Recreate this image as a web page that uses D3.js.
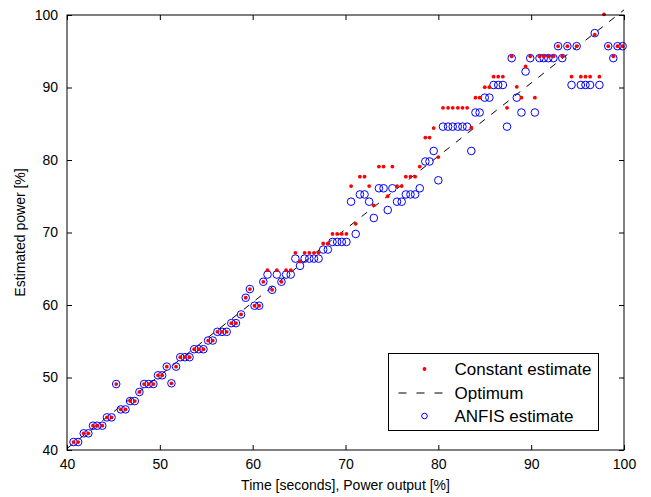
<!DOCTYPE html>
<html>
<head>
<meta charset="utf-8">
<script src="https://cdn.jsdelivr.net/npm/d3@7"></script>
<style>
  body { margin: 0; background: #fff; }
  svg { display: block; font-family: "Liberation Sans", Arial, Helvetica, sans-serif; }
</style>
</head>
<body>
<svg id="chart" width="651" height="497"></svg>
<script>
// sample positions (power output %)
var samples = [40.7, 41.2, 41.8, 42.3, 42.8, 43.25, 43.8, 44.3, 44.8, 45.3,
  45.8, 46.3, 46.8, 47.3, 47.8, 48.3, 48.8, 49.3, 49.8, 50.25,
  50.75, 51.25, 51.75, 52.2, 52.7, 53.2, 53.7, 54.2, 54.7, 55.2,
  55.7, 56.2, 56.7, 57.2, 57.7, 58.2, 58.75, 59.25, 59.7, 60.2,
  60.7, 61.15, 61.6, 62.1, 62.6, 63.1, 63.6, 64.1, 64.6, 65.1,
  65.6, 66.1, 66.6, 67.1, 67.6, 68.1, 68.6, 69.1, 69.6, 70.1,
  70.6, 71.1, 71.55, 72.05, 72.55, 73.05, 73.6, 74.1, 74.55, 75.05,
  75.55, 76.05, 76.5, 77.0, 77.5, 78.0, 78.6, 79.05, 79.5, 80.0,
  80.5, 81.05, 81.55, 82.1, 82.6, 83.1, 83.55, 84.0, 84.45, 85.0,
  85.5, 85.95, 86.45, 86.95, 87.4, 87.9, 88.45, 88.95, 89.4, 89.9,
  90.4, 90.9, 91.35, 91.85, 92.4, 92.9, 93.35, 93.9, 94.35, 94.9,
  95.35, 95.85, 96.35, 96.85, 97.35, 97.85, 98.3, 98.85, 99.3, 99.85];

// red dots
var constantEst = [41.1, 41.1, 42.3, 42.3, 43.35, 43.35, 43.35, 44.5, 44.5, 49.1,
  45.6, 45.6, 46.75, 46.75, 48.0, 49.1, 49.1, 49.1, 50.3, 50.3,
  51.5, 49.2, 51.5, 52.8, 52.8, 52.8, 53.9, 53.9, 53.9, 55.1,
  55.1, 56.3, 56.3, 56.3, 57.5, 57.5, 58.7, 61.0, 62.2, 59.9,
  59.9, 63.2, 64.8, 62.1, 64.8, 63.2, 64.8, 64.8, 67.2, 66.0,
  67.2, 67.2, 67.2, 67.2, 68.5, 68.5, 69.8, 69.8, 69.8, 69.8,
  76.4, 71.2, 77.7, 77.7, 76.4, 73.75, 79.1, 79.1, 75.0, 79.1,
  76.4, 76.4, 77.7, 77.7, 77.7, 79.1, 83.1, 83.1, 84.4, 80.4,
  87.2, 87.2, 87.2, 87.2, 87.2, 87.2, 84.45, 88.6, 88.6, 90.05,
  90.05, 91.5, 91.5, 91.5, 87.2, 94.3, 90.1, 88.6, 92.9, 94.3,
  88.6, 94.3, 94.3, 94.3, 94.3, 95.7, 94.3, 95.7, 91.5, 95.7,
  91.5, 91.5, 91.5, 97.3, 91.5, 100.1, 95.7, 94.3, 95.7, 95.7];

// blue circles
var anfisEst = [41.1, 41.1, 42.3, 42.3, 43.35, 43.35, 43.35, 44.5, 44.5, 49.1,
  45.6, 45.6, 46.75, 46.75, 48.0, 49.1, 49.1, 49.1, 50.3, 50.3,
  51.5, 49.2, 51.5, 52.8, 52.8, 52.8, 53.9, 53.9, 53.9, 55.1,
  55.1, 56.3, 56.3, 56.3, 57.5, 57.5, 58.7, 61.0, 62.2, 59.9,
  59.9, 63.2, 64.2, 62.1, 64.2, 63.2, 64.2, 64.2, 66.4, 65.4,
  66.4, 66.4, 66.4, 66.4, 67.65, 67.65, 68.7, 68.7, 68.7, 68.7,
  74.25, 69.8, 75.25, 75.25, 74.25, 72.0, 76.1, 76.1, 73.1, 76.1,
  74.25, 74.25, 75.25, 75.25, 75.25, 76.1, 79.8, 79.8, 81.25, 77.2,
  84.6, 84.6, 84.6, 84.6, 84.6, 84.6, 81.25, 86.55, 86.55, 88.6,
  88.6, 90.35, 90.35, 90.35, 84.6, 94.05, 88.6, 86.55, 92.2, 94.05,
  86.55, 94.05, 94.05, 94.05, 94.05, 95.7, 94.05, 95.7, 90.35, 95.7,
  90.35, 90.35, 90.35, 97.5, 90.35, null, 95.7, 94.05, 95.7, 95.7];

// dashed optimum line end points
var optimumX = [40, 100];
var optimumY = [40.2, 100.7];

var xTicks = [40, 50, 60, 70, 80, 90, 100];
var yTicks = [40, 50, 60, 70, 80, 90, 100];
var legendLabels = ["Constant estimate", "Optimum", "ANFIS estimate"];

var svg = d3.select("#chart");
var plotLeft = 67, plotRight = 624, plotTop = 15, plotBottom = 450;

var x = d3.scaleLinear().domain([40, 100]).range([plotLeft, plotRight]);
var y = d3.scaleLinear().domain([40, 100]).range([plotBottom, plotTop]);

// optimum
var optLine = d3.line()
  .x(function(d) { return x(d[0]); })
  .y(function(d) { return y(d[1]); });
svg.append("path")
  .datum(d3.zip(optimumX, optimumY))
  .attr("d", optLine)
  .attr("fill", "none")
  .attr("stroke", "#000")
  .attr("stroke-width", 1)
  .attr("stroke-dasharray", "7,8");

// ANFIS circles
svg.append("g").selectAll("circle")
  .data(d3.zip(samples, anfisEst).filter(function(d) { return d[1] != null; }))
  .enter().append("circle")
  .attr("cx", function(d) { return x(d[0]); })
  .attr("cy", function(d) { return y(d[1]); })
  .attr("r", 3.8)
  .attr("fill", "none")
  .attr("stroke", "#0000ff")
  .attr("stroke-width", 1);

// constant estimate dots
svg.append("g").selectAll("circle")
  .data(d3.zip(samples, constantEst))
  .enter().append("circle")
  .attr("cx", function(d) { return x(d[0]); })
  .attr("cy", function(d) { return y(d[1]); })
  .attr("r", 1.9)
  .attr("fill", "#ff0000");

// axes, matlab style: box with inward ticks on every side
var tickLen = 5;
var fontSize = 14;
svg.append("g")
  .attr("transform", "translate(0," + plotBottom + ")")
  .call(d3.axisBottom(x).tickValues(xTicks).tickSizeInner(-tickLen).tickSizeOuter(0).tickPadding(9))
  .call(function(g) { g.select(".domain").remove(); });
svg.append("g")
  .attr("transform", "translate(" + plotLeft + ",0)")
  .call(d3.axisLeft(y).tickValues(yTicks).tickSizeInner(-tickLen).tickSizeOuter(0).tickPadding(9))
  .call(function(g) { g.select(".domain").remove(); });
svg.append("g")
  .attr("transform", "translate(0," + plotTop + ")")
  .call(d3.axisTop(x).tickValues(xTicks).tickSizeInner(-tickLen).tickSizeOuter(0).tickFormat(""))
  .call(function(g) { g.select(".domain").remove(); });
svg.append("g")
  .attr("transform", "translate(" + plotRight + ",0)")
  .call(d3.axisRight(y).tickValues(yTicks).tickSizeInner(-tickLen).tickSizeOuter(0).tickFormat(""))
  .call(function(g) { g.select(".domain").remove(); });

svg.selectAll(".tick text")
  .attr("font-size", fontSize)
  .attr("font-family", "Liberation Sans, Arial, sans-serif")
  .attr("fill", "#000");
svg.selectAll(".tick line").attr("stroke", "#000");

svg.append("rect")
  .attr("x", plotLeft).attr("y", plotTop)
  .attr("width", plotRight - plotLeft).attr("height", plotBottom - plotTop)
  .attr("fill", "none").attr("stroke", "#000").attr("stroke-width", 1);

// axis titles
svg.append("text")
  .attr("x", (plotLeft + plotRight) / 2).attr("y", 490)
  .attr("text-anchor", "middle")
  .attr("font-size", fontSize)
  .text("Time [seconds], Power output [%]");
svg.append("text")
  .attr("transform", "translate(25," + (plotTop + plotBottom) / 2 + ") rotate(-90)")
  .attr("text-anchor", "middle")
  .attr("font-size", fontSize)
  .text("Estimated power [%]");

// legend
var lg = svg.append("g").attr("transform", "translate(388.5,353.5)");
lg.append("rect")
  .attr("width", 210).attr("height", 77)
  .attr("fill", "#fff").attr("stroke", "#000").attr("stroke-width", 1);
var rowY = [15.5, 39.5, 62.5];
lg.append("circle").attr("cx", 36).attr("cy", rowY[0]).attr("r", 1.9).attr("fill", "#ff0000");
lg.append("line").attr("x1", 10).attr("x2", 62).attr("y1", rowY[1]).attr("y2", rowY[1])
  .attr("stroke", "#000").attr("stroke-dasharray", "8,10");
lg.append("circle").attr("cx", 36).attr("cy", rowY[2]).attr("r", 2.8).attr("fill", "none").attr("stroke", "#0000ff");
lg.selectAll("text.lab")
  .data(legendLabels)
  .enter().append("text")
  .attr("class", "lab")
  .attr("x", 66)
  .attr("y", function(d, i) { return rowY[i]; })
  .attr("dy", "0.35em")
  .attr("font-size", 17)
  .text(function(d) { return d; });
</script>
</body>
</html>
